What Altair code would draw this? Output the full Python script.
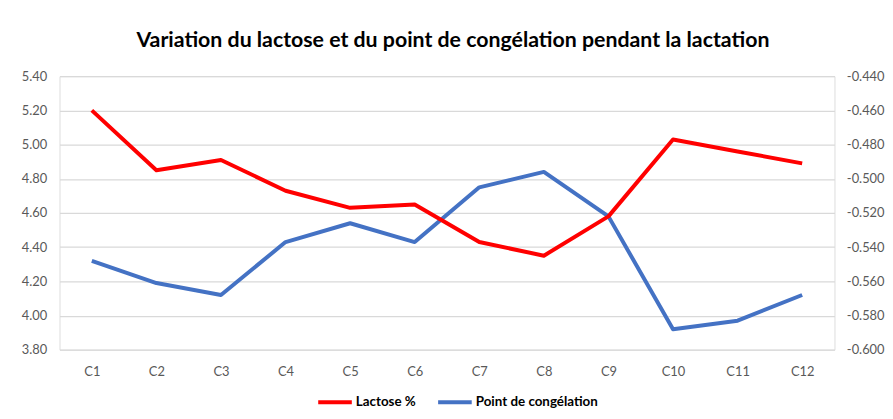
import altair as alt
import pandas as pd

categories = ["C1", "C2", "C3", "C4", "C5", "C6", "C7", "C8", "C9", "C10", "C11", "C12"]
lactose = [5.20, 4.85, 4.91, 4.73, 4.63, 4.65, 4.43, 4.35, 4.58, 5.03, 4.96, 4.89]
freezing = [-0.548, -0.561, -0.568, -0.537, -0.526, -0.537, -0.505, -0.496, -0.522, -0.588, -0.583, -0.568]
series_names = ["Lactose %", "Point de congélation"]
series_colors = ["#FF0000", "#4472C4"]
left_ticks = [3.8, 4.0, 4.2, 4.4, 4.6, 4.8, 5.0, 5.2, 5.4]
right_ticks = [-0.60, -0.58, -0.56, -0.54, -0.52, -0.50, -0.48, -0.46, -0.44]

rows = []
for c, v in zip(categories, lactose):
    rows.append({"category": c, "value": v, "series": series_names[0]})
for c, v in zip(categories, freezing):
    rows.append({"category": c, "value": v, "series": series_names[1]})
df = pd.DataFrame(rows)

FONT = "Lato"
LABEL_COLOR = "#595959"

color = alt.Color(
    "series:N",
    scale=alt.Scale(domain=series_names, range=series_colors),
    legend=alt.Legend(
        title=None,
        orient="none",
        legendX=259,
        legendY=310,
        direction="horizontal",
        symbolType="stroke",
        symbolStrokeWidth=4,
        symbolSize=1150,
        labelFont=FONT,
        labelFontSize=13.5,
        labelFontWeight="bold",
        labelColor="#000000",
        labelOffset=2,
        columnPadding=14,
        padding=0,
    ),
)

x = alt.X(
    "category:N",
    sort=categories,
    scale=alt.Scale(type="point", padding=0.5),
    axis=alt.Axis(
        title=None, labelAngle=0, domain=False, ticks=False, labelPadding=16,
        labelFont=FONT, labelFontSize=13, labelColor=LABEL_COLOR,
    ),
)

base = alt.Chart(df)

line_l = base.transform_filter(alt.datum.series == series_names[0]).mark_line(
    strokeWidth=4, strokeJoin="round"
).encode(
    x=x,
    y=alt.Y(
        "value:Q",
        scale=alt.Scale(domain=[3.8, 5.4], nice=False, zero=False),
        axis=alt.Axis(
            title=None, orient="left", values=left_ticks, format=".2f",
            grid=True, gridColor="#D9D9D9", gridWidth=1.3, domain=False, ticks=False,
            labelPadding=13, labelFont=FONT, labelFontSize=13, labelColor=LABEL_COLOR,
        ),
    ),
    color=color,
)

line_r = base.transform_filter(alt.datum.series == series_names[1]).mark_line(
    strokeWidth=4, strokeJoin="round"
).encode(
    x=x,
    y=alt.Y(
        "value:Q",
        scale=alt.Scale(domain=[-0.60, -0.44], nice=False, zero=False),
        axis=alt.Axis(
            title=None, orient="right", values=right_ticks,
            labelExpr="replace(format(datum.value, '.3f'), '\u2212', '-')",
            grid=False, domain=False, ticks=False,
            labelPadding=12, labelFont=FONT, labelFontSize=13, labelColor=LABEL_COLOR,
        ),
    ),
    color=color,
)

chart = alt.layer(line_r, line_l).resolve_scale(y="independent").properties(
    width=782,
    height=276,
    autosize=alt.AutoSizeParams(type="none"),
    padding={"left": 52, "top": 67, "right": 51, "bottom": 60},
    title=alt.TitleParams(
        "Variation du lactose et du point de congélation pendant la lactation",
        font=FONT, fontSize=21.5, fontWeight="bold", color="#000000",
        anchor="middle", offset=19, dx=6,
    ),
).configure_view(stroke=None).configure(background="#FFFFFF")

chart.save("out.html", embed_options={"renderer": "svg", "actions": False})
